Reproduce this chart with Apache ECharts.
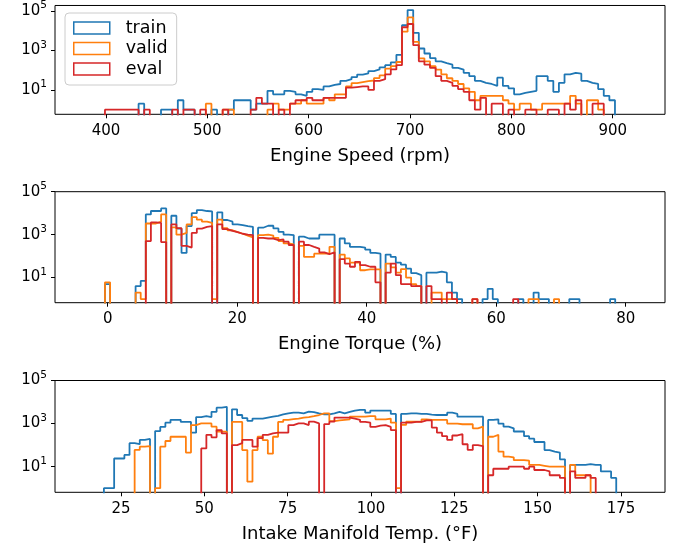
<!DOCTYPE html>
<html><head><meta charset="utf-8">
<script src="https://cdn.jsdelivr.net/npm/echarts@6/dist/echarts.min.js"></script>
<style>html,body{margin:0;padding:0;background:#fff}#c{width:678px;height:548px}</style>
</head><body><div id="c"></div>
<script>
const seriesNames = ['train', 'valid', 'eval'];
const seriesColors = ['#1f77b4', '#ff7f0e', '#d62728'];

// Panel 1: Engine Speed (rpm) - histogram counts per bin
const speedBinStart = 399.0, speedBinWidth = 5.53;
const speedTrain = [0,0,0,0,0,0,2,0,0,0, 1,1,0,3,1,1,0,0,0,1, 0,0,1,3,3,3,1,2,2,9, 6,6,9,8,6,5,8,11,10,15,
  18,20,29,35,45,60,70,90,110,140, 180,250,600,19000,112000,7800,1260,700,410,280, 230,190,130,107,74,50,29,23,20,16,
  42,16,12,6,7,8,9,50,50,29, 8,23,62,74,67,29,23,20,11,5,3];
const speedValid = [0,0,0,0,0,0,0,0,0,0, 0,0,0,0,0,0,0,0,2,0, 0,1,1,0,0,0,0,0,0,1, 2,1,1,2,2,3,2,2,2,4,
  3,6,6,15,22,25,28,30,40,55, 120,160,260,9000,47000,2700,400,280,160,107, 62,39,29,20,12,8,3,5,5,5,
  5,3,2,1,2,2,1,1,2,2, 2,2,2,5,2,0,3,3,1,0,0];
const speedEval = [1,1,1,1,1,1,0,1,0,0, 0,0,1,0,1,1,0,1,0,0, 0,1,0,0,0,0,1,4,2,2, 0,1,0,2,3,3,4,3,3,4,
  4,4,4,13,14,15,15,10,29,35, 62,110,180,15000,22000,1860,280,190,130,50, 29,23,16,11,8,3,1,4,0,2,
  2,0,1,0,0,1,1,0,0,1, 1,0,2,1,3,0,0,2,2,0,0];

// Panel 2: Engine Torque (%)
const torqueBinStart = -0.42, torqueBinWidth = 0.788;
const torqueTrain = [5,0,0,0,0,0,4,7,8700,12600, 12600,16600,0,7600,1900,140,2500,10000,14000,12600,
  12000,0,11000,4800,4000,3000,2800,2500,2300,0, 2100,2600,2600,1950,1350,1000,950,0,800,660,
  660,660,1000,1000,1000,0,660,390,270,270, 250,200,140,130,0,118,92,50,40,26,
  16,13,0,17,17,19,17,6,2,1, 0,0,0,0,1,3,1,0,0,0, 0,1,0,0,2,1,1,0,0,0, 0,1,1,0,0,0,0,0,0,1];
const torqueValid = [6,0,0,0,0,0,2,1,3300,3300, 4000,8700,0,2200,1000,1200,3000,6500,5000,4000,
  3500,1,5000,2000,1600,1300,1100,900,750,0, 950,1000,900,710,500,390,350,0,300,92,
  92,130,130,130,270,0,118,78,50,50, 22,24,24,24,0,45,30,17,25,10,
  5,4,0,0,2,2,1,1,1,0, 0,0,1,0,0,0,0,0,0,0, 0,0,0,1,1,0,0,0,1,0, 0,0,0,0,0,0,0,0,0,0];
const torqueEval = [0,0,0,0,0,0,0,0,500,3700, 3500,450,0,3000,2000,300,250,1200,1900,2300,
  2500,0,3000,1800,1500,1300,1100,1000,950,0, 700,660,660,560,600,470,330,0,470,330,
  270,225,150,125,150,0,72,45,32,54, 38,32,32,6,0,17,45,13,5,5,
  4,4,0,4,1,1,0,2,1,0, 0,0,1,0,0,0,0,0,0,0, 1,0,0,0,0,0,0,0,0,0, 0,0,0,0,0,0,0,0,0,0];

// Panel 3: Intake Manifold Temp. (°F)
const tempBinStart = 19.87, tempBinWidth = 1.537;
const tempTrain = [1,1,24,24,35,123,110,175,195,0, 450,700,1100,1500,1500,1200,1200,380,2000,2200,
  2000,3500,5500,6000,0,4600,2500,1800,1350,1700, 1700,1900,2100,2300,2700,3000,3200,3200,3000,3600,
  3400,3000,2700,2700,3000,3500,3000,3500,4000,4300, 4300,3200,4000,4000,4000,4000,2800,0,2800,3000,
  3000,2800,2800,2600,2500,2500,2500,3200,2800,2100, 2100,2100,2100,2100,0,1480,1580,1000,720,600,
  430,430,260,200,140,140,59,50,45,22, 0,12,12,12,13,12,12,6,6,3];
const tempValid = [0,0,0,0,0,0,60,85,90,0, 1,85,155,245,245,245,45,850,1020,1020,
  1020,720,420,420,0,1200,1200,59,2,59, 245,170,40,245,1200,1500,1600,1700,1900,2000,
  2200,2500,3000,3000,1300,1400,1500,1580,2100,2100, 2100,2200,2200,1580,1580,1700,1100,1,870,1230,
  1230,1230,1580,1480,1480,1480,1480,1000,1000,930, 930,930,600,720,0,245,300,50,29,27,
  20,20,19,12,12,11,10,10,10,10, 0,12,4,4,4,0,0,0,0,0];
const tempEval = [0,0,0,0,0,0,0,0,0,0, 0,0,0,0,0,0,0,0,0,70,
  300,230,500,350,0,100,123,175,175,85, 210,300,350,380,380,380,850,1020,1020,850,
  1230,1020,0,950,1230,1900,1900,1900,1700,1500, 1200,1100,700,800,850,700,500,0,1100,1100,
  1200,1200,1400,1400,650,380,260,175,280,320, 110,60,100,90,0,4,8,8,8,10,
  10,10,8,10,7,7,6,4,4,3, 0,6,3,3,4,3,0,0,0,0];

// Axis labels & ticks
const xTitles = ['Engine Speed (rpm)', 'Engine Torque (%)', 'Intake Manifold Temp. (°F)'];
const speedTicks = [400, 500, 600, 700, 800, 900];
const torqueTicks = [0, 20, 40, 60, 80];
const tempTicks = [25, 50, 75, 100, 125, 150, 175];
const yExponentTicks = [1, 3, 5];

const FONT = 'DejaVu Sans';
const panels = [
  {start: speedBinStart, width: speedBinWidth, data: [speedTrain, speedValid, speedEval], ticks: speedTicks,
   xmin: 349.7, xmax: 951.6, ymin: -0.235, ymax: 5.28, grid: {left: 55, top: 3, width: 610, height: 111.3}},
  {start: torqueBinStart, width: torqueBinWidth, data: [torqueTrain, torqueValid, torqueEval], ticks: torqueTicks,
   xmin: -8.14, xmax: 86.07, ymin: -0.17, ymax: 5, grid: {left: 55, top: 191.7, width: 610, height: 111}},
  {start: tempBinStart, width: tempBinWidth, data: [tempTrain, tempValid, tempEval], ticks: tempTicks,
   xmin: 5.2, xmax: 188.2, ymin: -0.19, ymax: 5, grid: {left: 55, top: 380.5, width: 610, height: 111.8}}
];

function stepPoints(start, width, counts) {
  const FLOOR = -4;
  const pts = [[start, FLOOR]];
  counts.forEach((c, i) => {
    const y = c > 0 ? Math.log10(c) : FLOOR;
    pts.push([start + i * width, y], [start + (i + 1) * width, y]);
  });
  pts.push([start + counts.length * width, FLOOR]);
  return pts;
}

const grids = [], xAxes = [], yAxes = [], series = [];
panels.forEach((p, pi) => {
  grids.push(Object.assign({show: true, borderColor: '#000', borderWidth: 1, backgroundColor: 'transparent'}, p.grid));
  xAxes.push({
    type: 'value', gridIndex: pi, min: p.xmin, max: p.xmax, position: 'bottom',
    name: xTitles[pi], nameLocation: 'middle', nameGap: 33,
    nameTextStyle: {fontFamily: FONT, fontSize: 18, color: '#000'},
    axisLine: {show: false, onZero: false}, splitLine: {show: false},
    axisTick: {show: true, length: 4, lineStyle: {color: '#000', width: 1}, customValues: p.ticks},
    axisLabel: {fontFamily: FONT, fontSize: 15, color: '#000', margin: 9, customValues: p.ticks}
  });
  yAxes.push({
    type: 'value', gridIndex: pi, min: p.ymin, max: p.ymax, position: 'left',
    axisLine: {show: false, onZero: false}, splitLine: {show: false},
    axisTick: {show: true, length: 4, lineStyle: {color: '#000', width: 1}, customValues: yExponentTicks},
    axisLabel: {
      customValues: yExponentTicks, margin: 8,
      formatter: v => '{b|10}{s|' + Math.round(v) + '}',
      rich: {
        b: {fontFamily: FONT, fontSize: 15, color: '#000'},
        s: {fontFamily: FONT, fontSize: 10.5, color: '#000', padding: [0, 0, 11, 0]}
      }
    }
  });
  p.data.forEach((counts, si) => {
    series.push({
      type: 'line', name: seriesNames[si], xAxisIndex: pi, yAxisIndex: pi,
      data: stepPoints(p.start, p.width, counts),
      showSymbol: false, symbol: 'none', clip: true, silent: true,
      lineStyle: {color: seriesColors[si], width: 1.8},
      itemStyle: {color: seriesColors[si]},
      emphasis: {disabled: true}, z: 2 + si
    });
  });
});

const chart = echarts.init(document.getElementById('c'), null, {renderer: 'canvas'});
chart.setOption({
  animation: false,
  backgroundColor: '#fff',
  grid: grids, xAxis: xAxes, yAxis: yAxes, series: series,
  legend: {
    show: true, orient: 'vertical', left: 65, top: 13,
    padding: [6, 9, 7, 8], itemGap: 2.5, itemWidth: 36, itemHeight: 12,
    backgroundColor: 'rgba(255,255,255,0.8)', borderColor: '#cccccc', borderWidth: 1, borderRadius: 4,
    textStyle: {fontFamily: FONT, fontSize: 17.5, color: '#000', padding: [0, 0, 0, 11]},
    selectedMode: false,
    data: seriesNames.map((n, i) => ({name: n, icon: 'rect',
      itemStyle: {color: 'rgba(0,0,0,0)', borderColor: seriesColors[i], borderWidth: 1.5}}))
  }
});
</script>
</body></html>
